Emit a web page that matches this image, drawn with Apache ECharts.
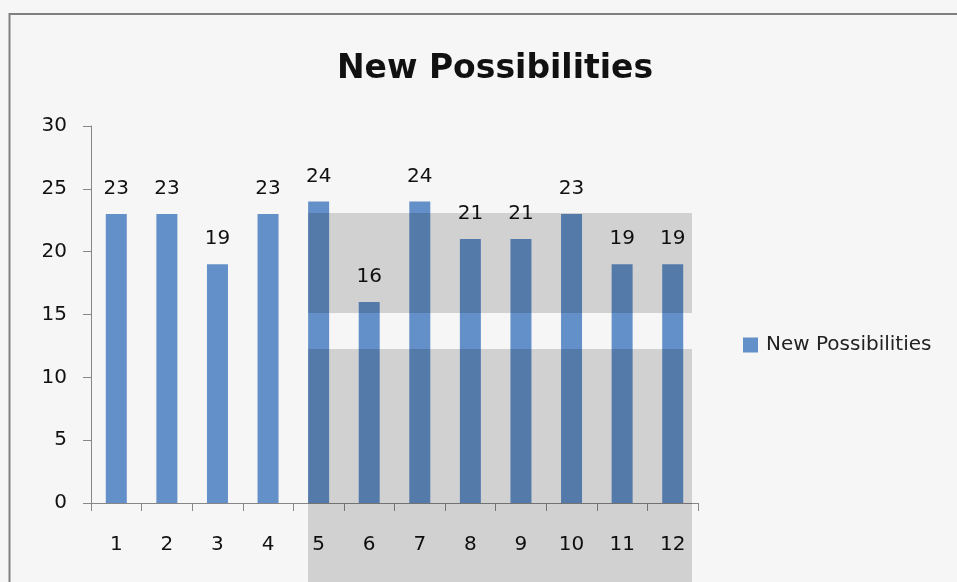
<!DOCTYPE html>
<html>
<head>
<meta charset="utf-8">
<script src="https://cdn.jsdelivr.net/npm/echarts@6/dist/echarts.min.js"></script>
<style>
html,body{margin:0;padding:0;background:#f6f6f6;}
#chart{width:957px;height:582px;}
</style>
</head>
<body>
<div id="chart"></div>
<script>
const categories = ['1','2','3','4','5','6','7','8','9','10','11','12'];
const seriesName = 'New Possibilities';
const values = [23, 23, 19, 23, 24, 16, 24, 21, 21, 23, 19, 19];
const yTicks = { min: 0, max: 30, interval: 5 };

const chart = echarts.init(document.getElementById('chart'));
const font = 'DejaVu Sans';
chart.setOption({
  backgroundColor: '#f6f6f6',
  animation: false,
  title: {
    text: seriesName,
    left: 490,
    textAlign: 'center',
    top: 48,
    textStyle: { fontFamily: font, fontWeight: 'bold', fontSize: 33, color: '#111' }
  },
  legend: {
    data: [seriesName],
    left: 738,
    top: 330,
    itemWidth: 15,
    itemHeight: 15,
    icon: 'rect',
    textStyle: { fontFamily: font, fontSize: 20, color: '#222', padding: [0, 0, 0, 3] }
  },
  grid: { left: 91, right: 259, top: 126, height: 377 },
  xAxis: {
    type: 'category',
    data: categories,
    axisLine: { lineStyle: { color: '#868686', width: 1 } },
    axisTick: { show: true, alignWithLabel: false, length: 8, lineStyle: { color: '#868686' } },
    axisLabel: { fontFamily: font, fontSize: 20, color: '#111', margin: 32 }
  },
  yAxis: {
    type: 'value',
    min: yTicks.min, max: yTicks.max, interval: yTicks.interval,
    axisLine: { show: true, lineStyle: { color: '#868686', width: 1 } },
    axisTick: { show: true, length: 8, lineStyle: { color: '#868686' } },
    splitLine: { show: false },
    axisLabel: { fontFamily: font, fontSize: 20, color: '#111', margin: 24 }
  },
  series: [{
    name: seriesName,
    type: 'bar',
    data: values,
    barWidth: 21,
    itemStyle: { color: '#6390c8' },
    label: { show: true, position: 'top', distance: 15, fontFamily: font, fontSize: 20, color: '#111' }
  }],
  graphic: [
    { type: 'rect', silent: true, z: 100, shape: { x: 308, y: 213, width: 384, height: 100 }, style: { fill: 'rgba(0,0,0,0.15)' } },
    { type: 'rect', silent: true, z: 100, shape: { x: 308, y: 349, width: 384, height: 240 }, style: { fill: 'rgba(0,0,0,0.15)' } },
    { type: 'rect', silent: true, z: 100, shape: { x: 9.5, y: 14, width: 1000, height: 600 }, style: { fill: 'none', stroke: '#808080', lineWidth: 2 } }
  ]
});
</script>
</body>
</html>
